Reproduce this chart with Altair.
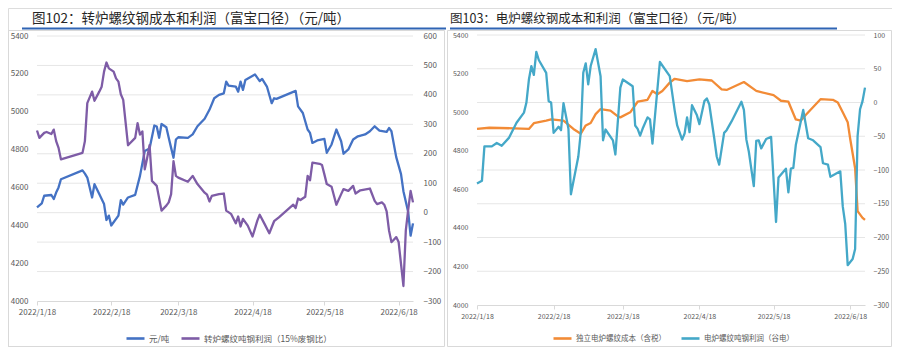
import altair as alt
import pandas as pd

FONT = "Noto Sans CJK SC"

left_title = "图102：转炉螺纹钢成本和利润（富宝口径）（元/吨）"
right_title = "图103：电炉螺纹钢成本和利润（富宝口径）（元/吨）"

x_ticks = ["2022-01-18", "2022-02-18", "2022-03-18", "2022-04-18", "2022-05-18", "2022-06-18"]
x_start, x_end = "2022-01-18", "2022-06-24"

left_cost_ticks = [4000, 4200, 4400, 4600, 4800, 5000, 5200, 5400]
left_profit_ticks = [-300, -200, -100, 0, 100, 200, 300, 400, 500, 600]
right_cost_ticks = [4000, 4200, 4400, 4600, 4800, 5000, 5200, 5400]
right_profit_ticks = [-300, -250, -200, -150, -100, -50, 0, 50, 100]

# ---- left panel: BOF rebar cost (left axis) ----
lc_name = "元/吨"
lc_dates = ["2022-01-18", "2022-01-20", "2022-01-21", "2022-01-24", "2022-01-25", "2022-01-26",
            "2022-01-27", "2022-01-28", "2022-02-06", "2022-02-07", "2022-02-08", "2022-02-10",
            "2022-02-11", "2022-02-13", "2022-02-15", "2022-02-16", "2022-02-17", "2022-02-18",
            "2022-02-21", "2022-02-22", "2022-02-23", "2022-02-25", "2022-02-28", "2022-03-02",
            "2022-03-04", "2022-03-06", "2022-03-08", "2022-03-09", "2022-03-10", "2022-03-11",
            "2022-03-13", "2022-03-14", "2022-03-15", "2022-03-16", "2022-03-17", "2022-03-18",
            "2022-03-22", "2022-03-24", "2022-03-26", "2022-03-29", "2022-03-31", "2022-04-02",
            "2022-04-04", "2022-04-06", "2022-04-07", "2022-04-08", "2022-04-11", "2022-04-12",
            "2022-04-13", "2022-04-14", "2022-04-15", "2022-04-19", "2022-04-21", "2022-04-22",
            "2022-04-24", "2022-04-26", "2022-04-27", "2022-04-28", "2022-05-06", "2022-05-07",
            "2022-05-09", "2022-05-11", "2022-05-12", "2022-05-13", "2022-05-15", "2022-05-18",
            "2022-05-19", "2022-05-21", "2022-05-23", "2022-05-25", "2022-05-26", "2022-05-28",
            "2022-05-30", "2022-06-01", "2022-06-04", "2022-06-06", "2022-06-08", "2022-06-10",
            "2022-06-13", "2022-06-14", "2022-06-15", "2022-06-17", "2022-06-19", "2022-06-20",
            "2022-06-22", "2022-06-23", "2022-06-24"]
lc_vals = [4495, 4516, 4556, 4560, 4539, 4573,
           4600, 4643, 4690, 4673, 4652, 4547,
           4617, 4565, 4512, 4428, 4451, 4399,
           4451, 4533, 4509, 4547, 4561, 4661,
           4792, 4806, 4927, 4922, 4862, 4935,
           4918, 4862, 4809, 4757, 4853, 4865,
           4862, 4880, 4923, 4963, 5010, 5071,
           5089, 5097, 5159, 5138, 5133, 5106,
           5159, 5115, 5168, 5197, 5162, 5173,
           5133, 5045, 5071, 5068, 5110, 5028,
           4993, 4906, 4888, 4835, 4848, 4856,
           4783, 4827, 4906, 4844, 4778, 4801,
           4853, 4870, 4880, 4897, 4923, 4900,
           4893, 4914, 4897, 4760, 4670, 4580,
           4470, 4345, 4410]

# ---- left panel: BOF rebar profit (right axis) ----
lp_name = "转炉螺纹吨钢利润（15%废钢比）"
lp_dates = ["2022-01-18", "2022-01-19", "2022-01-21", "2022-01-22", "2022-01-24", "2022-01-25",
            "2022-01-26", "2022-01-27", "2022-01-28", "2022-02-06", "2022-02-07", "2022-02-08",
            "2022-02-10", "2022-02-11", "2022-02-13", "2022-02-14", "2022-02-15", "2022-02-16",
            "2022-02-17", "2022-02-19", "2022-02-20", "2022-02-21", "2022-02-22", "2022-02-23",
            "2022-02-25", "2022-02-28", "2022-03-01", "2022-03-02", "2022-03-03", "2022-03-04",
            "2022-03-05", "2022-03-06", "2022-03-07", "2022-03-09", "2022-03-11", "2022-03-13",
            "2022-03-14", "2022-03-15", "2022-03-16", "2022-03-17", "2022-03-18", "2022-03-22",
            "2022-03-24", "2022-03-26", "2022-03-29", "2022-03-30", "2022-03-31", "2022-04-01",
            "2022-04-04", "2022-04-06", "2022-04-07", "2022-04-09", "2022-04-11", "2022-04-12",
            "2022-04-13", "2022-04-14", "2022-04-16", "2022-04-18", "2022-04-20", "2022-04-21",
            "2022-04-23", "2022-04-25", "2022-04-27", "2022-04-29", "2022-05-05", "2022-05-06",
            "2022-05-07", "2022-05-08", "2022-05-10", "2022-05-11", "2022-05-12", "2022-05-13",
            "2022-05-16", "2022-05-17", "2022-05-18", "2022-05-19", "2022-05-21", "2022-05-23",
            "2022-05-25", "2022-05-26", "2022-05-28", "2022-05-30", "2022-05-31", "2022-06-02",
            "2022-06-06", "2022-06-08", "2022-06-09", "2022-06-11", "2022-06-12", "2022-06-13",
            "2022-06-14", "2022-06-15", "2022-06-16", "2022-06-17", "2022-06-18", "2022-06-20",
            "2022-06-21", "2022-06-22", "2022-06-23", "2022-06-24"]
lp_vals = [279, 254, 271, 274, 267, 282,
           243, 220, 181, 203, 243, 372,
           411, 380, 411, 428, 479, 510,
           490, 479, 456, 445, 402, 383,
           229, 254, 304, 265, 276, 147,
           186, 229, 108, 91, 7, 24,
           35, 63, 175, 125, 119, 105,
           125, 97, 68, 61, 38, 57,
           63, 65, 7, -4, -36, -13,
           -47, -21, -44, -81, -27, -7,
           -38, -70, -29, -16, 27, 16,
           48, 43, 54, 125, 110, 170,
           166, 162, 130, 97, 88, 27,
           63, 80, 74, 91, 65, 76,
           82, 40, 29, 35, 27, 4,
           -61, -100, -92, -83, -100, -249,
           -60, 10, 74, 35]

# ---- right panel: EAF rebar cost (left axis) ----
rc_name = "独立电炉螺纹成本（含税）"
rc_dates = ["2022-01-18", "2022-01-23", "2022-02-02", "2022-02-08", "2022-02-10", "2022-02-15",
            "2022-02-17", "2022-02-22", "2022-02-26", "2022-03-01", "2022-03-03", "2022-03-05",
            "2022-03-07", "2022-03-09", "2022-03-13", "2022-03-16", "2022-03-17", "2022-03-21",
            "2022-03-24", "2022-03-28", "2022-03-30", "2022-04-01", "2022-04-03", "2022-04-06",
            "2022-04-08", "2022-04-13", "2022-04-18", "2022-04-23", "2022-04-27", "2022-04-29",
            "2022-05-06", "2022-05-11", "2022-05-18", "2022-05-21", "2022-05-24", "2022-05-27",
            "2022-05-29", "2022-05-31", "2022-06-06", "2022-06-11", "2022-06-13", "2022-06-15",
            "2022-06-17", "2022-06-18", "2022-06-20", "2022-06-21", "2022-06-23", "2022-06-24"]
rc_vals = [4913, 4919, 4916, 4913, 4943, 4956,
           4962, 4956, 4913, 4888, 4931, 4944,
           4990, 5016, 5008, 4978, 4973, 4999,
           5054, 5064, 5110, 5093, 5110, 5153,
           5173, 5161, 5170, 5164, 5118, 5115,
           5156, 5110, 5088, 5059, 5054, 4962,
           4956, 4985, 5067, 5064, 5050, 4999,
           4948, 4862, 4709, 4487, 4452, 4441]

# ---- right panel: EAF rebar profit (right axis) ----
rp_name = "电炉螺纹吨钢利润（谷电）"
rp_dates = ["2022-01-18", "2022-01-20", "2022-01-21", "2022-01-24", "2022-01-26", "2022-01-28",
            "2022-01-31", "2022-02-03", "2022-02-06", "2022-02-07", "2022-02-08", "2022-02-09",
            "2022-02-10", "2022-02-11", "2022-02-12", "2022-02-15", "2022-02-16", "2022-02-17",
            "2022-02-18", "2022-02-20", "2022-02-21", "2022-02-22", "2022-02-24", "2022-02-25",
            "2022-02-28", "2022-03-01", "2022-03-02", "2022-03-03", "2022-03-04", "2022-03-05",
            "2022-03-07", "2022-03-09", "2022-03-10", "2022-03-11", "2022-03-14", "2022-03-15",
            "2022-03-17", "2022-03-18", "2022-03-22", "2022-03-23", "2022-03-24", "2022-03-25",
            "2022-03-26", "2022-03-28", "2022-03-29", "2022-03-30", "2022-04-02", "2022-04-06",
            "2022-04-08", "2022-04-09", "2022-04-11", "2022-04-12", "2022-04-13", "2022-04-14",
            "2022-04-15", "2022-04-17", "2022-04-18", "2022-04-20", "2022-04-21", "2022-04-22",
            "2022-04-24", "2022-04-25", "2022-04-26", "2022-04-28", "2022-04-29", "2022-05-01",
            "2022-05-05", "2022-05-06", "2022-05-07", "2022-05-08", "2022-05-10", "2022-05-11",
            "2022-05-12", "2022-05-13", "2022-05-15", "2022-05-17", "2022-05-19", "2022-05-20",
            "2022-05-23", "2022-05-24", "2022-05-25", "2022-05-26", "2022-05-27", "2022-05-30",
            "2022-06-01", "2022-06-03", "2022-06-06", "2022-06-07", "2022-06-09", "2022-06-10",
            "2022-06-12", "2022-06-14", "2022-06-15", "2022-06-16", "2022-06-17", "2022-06-19",
            "2022-06-20", "2022-06-21", "2022-06-22", "2022-06-23", "2022-06-24"]
rp_vals = [-120, -116, -65, -65, -60, -64,
           -52, -30, -15, 0, 34, 54,
           41, 75, 63, 44, 2, 0,
           -45, -36, -41, -1, -39, -136,
           -80, -44, 44, 58, 27, 54,
           79, 39, -56, -40, -56, -77,
           22, 34, 24, -34, -39, -49,
           -39, -22, -25, -61, 60, 39,
           -12, -34, -55, -46, -22, -44,
           -4, -19, -32, 2, 6, -3,
           -53, -80, -92, -45, -41, -28,
           1, -11, -55, -73, -124, -57,
           -56, -68, -54, -51, -177, -111,
           -98, -133, -98, -97, -63, -11,
           -53, -56, -66, -90, -92, -110,
           -106, -102, -154, -180, -241, -232,
           -217, -50, -10, 2, 22]

# ---------------------------------------------------------------------------
W, H = 884, 339
BLUE, PURPLE, ORANGE, TEAL = "#4472C4", "#7E5CA6", "#F28B36", "#44A8C8"
LABEL = "#595959"
GRID = "#e6e6e6"


def dt(s):
    y, m, d = (int(p) for p in s.split("-"))
    return alt.DateTime(year=y, month=m, date=d)


tick_dts = [dt(s) for s in x_ticks]


def x_axis(offset, size):
    return alt.Axis(orient="bottom", offset=offset, values=tick_dts, format="%Y/%-m/%-d",
                    labelFont=FONT, labelFontSize=size, labelColor=LABEL, domainColor="#d9d9d9",
                    tickColor="#d9d9d9", tickSize=4, labelPadding=3, grid=False, title=None,
                    labelOverlap=False, labelFlush=False)


def y_axis(orient, offset, values, size, pad):
    return alt.Axis(orient=orient, offset=offset, values=values, format="d", labelFont=FONT,
                    labelFontSize=size, labelColor=LABEL, domain=False, ticks=False,
                    grid=False, labelPadding=pad, title=None)


def legend(lx, ly, size):
    return alt.Legend(orient="none", legendX=lx, legendY=ly, title=None, symbolType="stroke",
                      symbolStrokeWidth=2.6, symbolSize=324, labelFont=FONT,
                      labelFontSize=size, labelColor=LABEL, labelOffset=3, padding=0)


def series(dates, vals, name, color, xs, ys, xa, ya, lg):
    df = pd.DataFrame({"date": pd.to_datetime(dates), "value": vals, "series": name})
    return alt.Chart(df).mark_line(strokeWidth=2.3, strokeJoin="round").encode(
        x=alt.X("date:T", scale=xs, axis=xa),
        y=alt.Y("value:Q", scale=ys, axis=ya),
        color=alt.Color("series:N", scale=alt.Scale(domain=[name], range=[color]), legend=lg),
    )


def grid(values, xs, ys):
    df = pd.DataFrame({"g": values})
    return alt.Chart(df).mark_rule(color=GRID, strokeWidth=1).encode(
        y=alt.Y("g:Q", scale=ys, axis=None),
        x=alt.X(datum=dt(x_start), type="temporal", scale=xs, axis=None),
        x2=alt.X2(datum=dt(x_end)),
    )


def deco_text(txt, x, y, size):
    return alt.Chart(pd.DataFrame({"t": [txt]})).mark_text(
        align="left", baseline="middle", font=FONT, fontSize=size, color="#262626"
    ).encode(text="t:N", x=alt.value(x), y=alt.value(y))


def box(x0, x1, y0, y1):
    return alt.Chart(pd.DataFrame({"a": [0]})).mark_rect(
        fillOpacity=0, stroke="#d9d9d9", strokeWidth=1
    ).encode(x=alt.value(x0), x2=alt.value(x1), y=alt.value(y0), y2=alt.value(y1))


def underline(x0, x1, y):
    return alt.Chart(pd.DataFrame({"a": [0]})).mark_rule(color="#2F64B4", strokeWidth=2).encode(
        x=alt.value(x0), x2=alt.value(x1), y=alt.value(y))


# left panel scales
L_xs = alt.Scale(domain=[dt(x_start), dt(x_end)], range=[29, 405], nice=False)
L_y1 = alt.Scale(domain=[4000, 5400], range=[293, 28], nice=False, zero=False)
L_y2 = alt.Scale(domain=[-300, 600], range=[293, 28], nice=False, zero=False)
# right panel scales
R_xs = alt.Scale(domain=[dt(x_start), dt(x_end)], range=[469, 857], nice=False)
R_y1 = alt.Scale(domain=[4000, 5400], range=[297, 27], nice=False, zero=False)
R_y2 = alt.Scale(domain=[-300, 100], range=[297, 27], nice=False, zero=False)

layers = [
    box(0.5, 436.5, 22.5, 338.5),
    box(439.5, 883.5, 22.5, 338.5),
    underline(14, 438, 20.5),
    underline(442, 829, 20.5),
    deco_text(left_title, 24, 11, 13.5),
    deco_text(right_title, 442, 11, 12.5),
    grid([v for v in left_profit_ticks if v != -300], L_xs, L_y2),
    grid([v for v in right_profit_ticks if v != -300], R_xs, R_y2),
    series(lc_dates, lc_vals, lc_name, BLUE, L_xs, L_y1, x_axis(293 - H, 8),
           y_axis("left", -29, left_cost_ticks, 8, 9), legend(117, 320, 8.5)),
    series(lp_dates, lp_vals, lp_name, PURPLE, L_xs, L_y2, None,
           y_axis("right", 405 - W, left_profit_ticks, 8, 10), legend(172, 320, 8.5)),
    series(rc_dates, rc_vals, rc_name, ORANGE, R_xs, R_y1, x_axis(297 - H, 7),
           y_axis("left", -469, right_cost_ticks, 7, 9), legend(544, 320, 7.5)),
    series(rp_dates, rp_vals, rp_name, TEAL, R_xs, R_y2, None,
           y_axis("right", 857 - W, right_profit_ticks, 7, 8), legend(672, 320, 7.5)),
]

chart = alt.layer(*layers).resolve_scale(
    x="independent", y="independent", color="independent"
).resolve_axis(x="independent", y="independent").resolve_legend(color="independent").properties(
    width=W, height=H, padding=0, autosize=alt.AutoSizeParams(type="none")
).configure_view(stroke=None).configure(background="white")

chart.save("out.html", embed_options={"renderer": "svg", "actions": False})
